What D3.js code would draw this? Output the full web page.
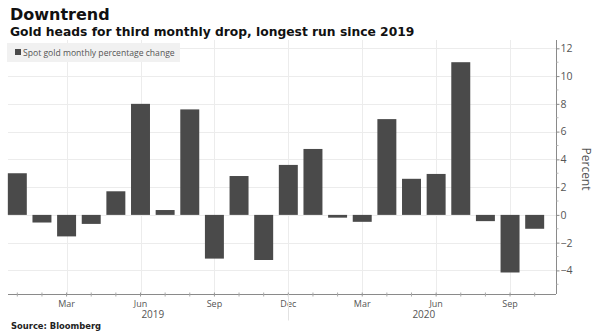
<!DOCTYPE html>
<html>
<head>
<meta charset="utf-8">
<script src="https://cdn.jsdelivr.net/npm/d3@7"></script>
<style>
  body { margin: 0; background: #fff; }
  svg { display: block; }
</style>
</head>
<body>
<svg id="chart"></svg>
<script>
// monthly percentage change in spot gold, Jan 2019 - Oct 2020
const months = ["2019-01", "2019-02", "2019-03", "2019-04", "2019-05", "2019-06",
  "2019-07", "2019-08", "2019-09", "2019-10", "2019-11", "2019-12",
  "2020-01", "2020-02", "2020-03", "2020-04", "2020-05", "2020-06",
  "2020-07", "2020-08", "2020-09", "2020-10"];
const changes = [3.0, -0.55, -1.55, -0.65, 1.7, 8.0, 0.35, 7.6, -3.15, 2.8, -3.25, 3.6,
  4.75, -0.2, -0.5, 6.9, 2.6, 2.95, 11.0, -0.45, -4.15, -1.0];

const majorMonths = ["2019-03", "2019-06", "2019-09", "2019-12", "2020-03", "2020-06", "2020-09"];
const majorLabels = ["Mar", "Jun", "Sep", "Dec", "Mar", "Jun", "Sep"];
const years = ["2019", "2020"];
const yTicks = [-4, -2, 0, 2, 4, 6, 8, 10, 12];

const width = 600, height = 333;
const plot = { left: 5, right: 556, top: 40, bottom: 294 };

const svg = d3.select("#chart")
  .attr("width", width)
  .attr("height", height);

const x = d3.scaleBand()
  .domain(months)
  .range([plot.left, 547])
  .paddingInner(0.23)
  .paddingOuter(0.115);

const y = d3.scaleLinear()
  .domain([-5.7, 12.6])
  .range([plot.bottom, plot.top]);

const mid = d => x(d) + x.bandwidth() / 2;

// grid
const grid = svg.append("g").attr("stroke", "#ececec").attr("stroke-width", 1);
grid.selectAll(".hgrid")
  .data(yTicks)
  .join("line")
    .attr("class", "hgrid")
    .attr("x1", plot.left + 3)
    .attr("x2", plot.right)
    .attr("y1", d => Math.round(y(d)) + 0.5)
    .attr("y2", d => Math.round(y(d)) + 0.5);
grid.selectAll(".vgrid")
  .data(majorMonths)
  .join("line")
    .attr("class", "vgrid")
    .attr("x1", d => Math.round(mid(d)) + 0.5)
    .attr("x2", d => Math.round(mid(d)) + 0.5)
    .attr("y1", plot.top)
    .attr("y2", plot.bottom);

// legend
svg.append("rect")
  .attr("x", 7).attr("y", 43)
  .attr("width", 173).attr("height", 19)
  .attr("fill", "#f1f1f1");
svg.append("rect")
  .attr("x", 15).attr("y", 49)
  .attr("width", 6).attr("height", 6)
  .attr("fill", "#4a4a4a");
svg.append("text")
  .attr("x", 23).attr("y", 55.5)
  .attr("font-family", "Open Sans")
  .attr("font-size", "8.6px")
  .attr("fill", "#555")
  .text("Spot gold monthly percentage change");

// bars
svg.append("g")
  .selectAll("rect")
  .data(months)
  .join("rect")
    .attr("x", d => x(d))
    .attr("width", x.bandwidth())
    .attr("y", (d, i) => y(Math.max(0, changes[i])))
    .attr("height", (d, i) => Math.abs(y(changes[i]) - y(0)))
    .attr("fill", "#4a4a4a");

// right axis
const yAxis = d3.axisRight(y)
  .tickValues(yTicks)
  .tickSize(3)
  .tickPadding(1);
const yG = svg.append("g")
  .attr("transform", `translate(${plot.right + 0.5},0)`)
  .call(yAxis);
yG.select(".domain").attr("stroke", "#8a8a8a").attr("d", `M0,${plot.top}V${plot.bottom}`);
yG.selectAll(".tick line").attr("stroke", "#8a8a8a");
yG.selectAll(".tick text")
  .attr("font-family", "Open Sans")
  .attr("font-size", "10.5px")
  .attr("fill", "#555");
// minor ticks every unit
yG.selectAll(".minor")
  .data(d3.range(-5, 13).filter(v => v % 2 !== 0))
  .join("line")
    .attr("class", "minor")
    .attr("x1", 0).attr("x2", 2)
    .attr("y1", d => y(d)).attr("y2", d => y(d))
    .attr("stroke", "#bbb");

svg.append("text")
  .attr("transform", `translate(582,169) rotate(90)`)
  .attr("text-anchor", "middle")
  .attr("font-family", "Open Sans")
  .attr("font-size", "12px")
  .attr("fill", "#555")
  .text("Percent");

// bottom axis
const xAxis = d3.axisBottom(x)
  .tickValues(majorMonths)
  .tickSize(2)
  .tickPadding(4)
  .tickFormat((d, i) => majorLabels[i]);
const xG = svg.append("g")
  .attr("transform", `translate(0,${plot.bottom + 0.5})`)
  .call(xAxis);
xG.select(".domain").attr("stroke", "#8a8a8a").attr("d", `M${plot.left + 3},0H${plot.right}`);
xG.selectAll(".tick line").attr("stroke", "#999").attr("y1", -2);
xG.selectAll(".tick text")
  .attr("font-family", "Open Sans")
  .attr("font-size", "9px")
  .attr("fill", "#555");
xG.selectAll(".minor")
  .data(months.filter(m => !majorMonths.includes(m)))
  .join("line")
    .attr("class", "minor")
    .attr("x1", d => mid(d)).attr("x2", d => mid(d))
    .attr("y1", -2).attr("y2", 2)
    .attr("stroke", "#aaa");
// year separator
xG.append("line")
  .attr("x1", Math.round(mid("2019-12")) + 0.5)
  .attr("x2", Math.round(mid("2019-12")) + 0.5)
  .attr("y1", 0).attr("y2", 26)
  .attr("stroke", "#e2e2e2");

svg.selectAll(".year")
  .data(years)
  .join("text")
    .attr("class", "year")
    .attr("x", yr => {
      const ms = months.filter(m => m.startsWith(yr));
      return (mid(ms[0]) + mid(ms[ms.length - 1])) / 2;
    })
    .attr("y", 318)
    .attr("text-anchor", "middle")
    .attr("font-family", "Open Sans")
    .attr("font-size", "10px")
    .attr("fill", "#555")
    .text(d => d);

// titles
svg.append("text")
  .attr("x", 10).attr("y", 20)
  .attr("font-family", "DejaVu Sans")
  .attr("font-weight", "bold")
  .attr("font-size", "16px")
  .attr("fill", "#111")
  .text("Downtrend");
svg.append("text")
  .attr("x", 10).attr("y", 36)
  .attr("font-family", "DejaVu Sans")
  .attr("font-weight", "bold")
  .attr("font-size", "12.3px")
  .attr("fill", "#111")
  .text("Gold heads for third monthly drop, longest run since 2019");
svg.append("text")
  .attr("x", 11).attr("y", 329)
  .attr("font-family", "DejaVu Sans")
  .attr("font-weight", "bold")
  .attr("font-size", "8.4px")
  .attr("fill", "#222")
  .text("Source: Bloomberg");
</script>
</body>
</html>
